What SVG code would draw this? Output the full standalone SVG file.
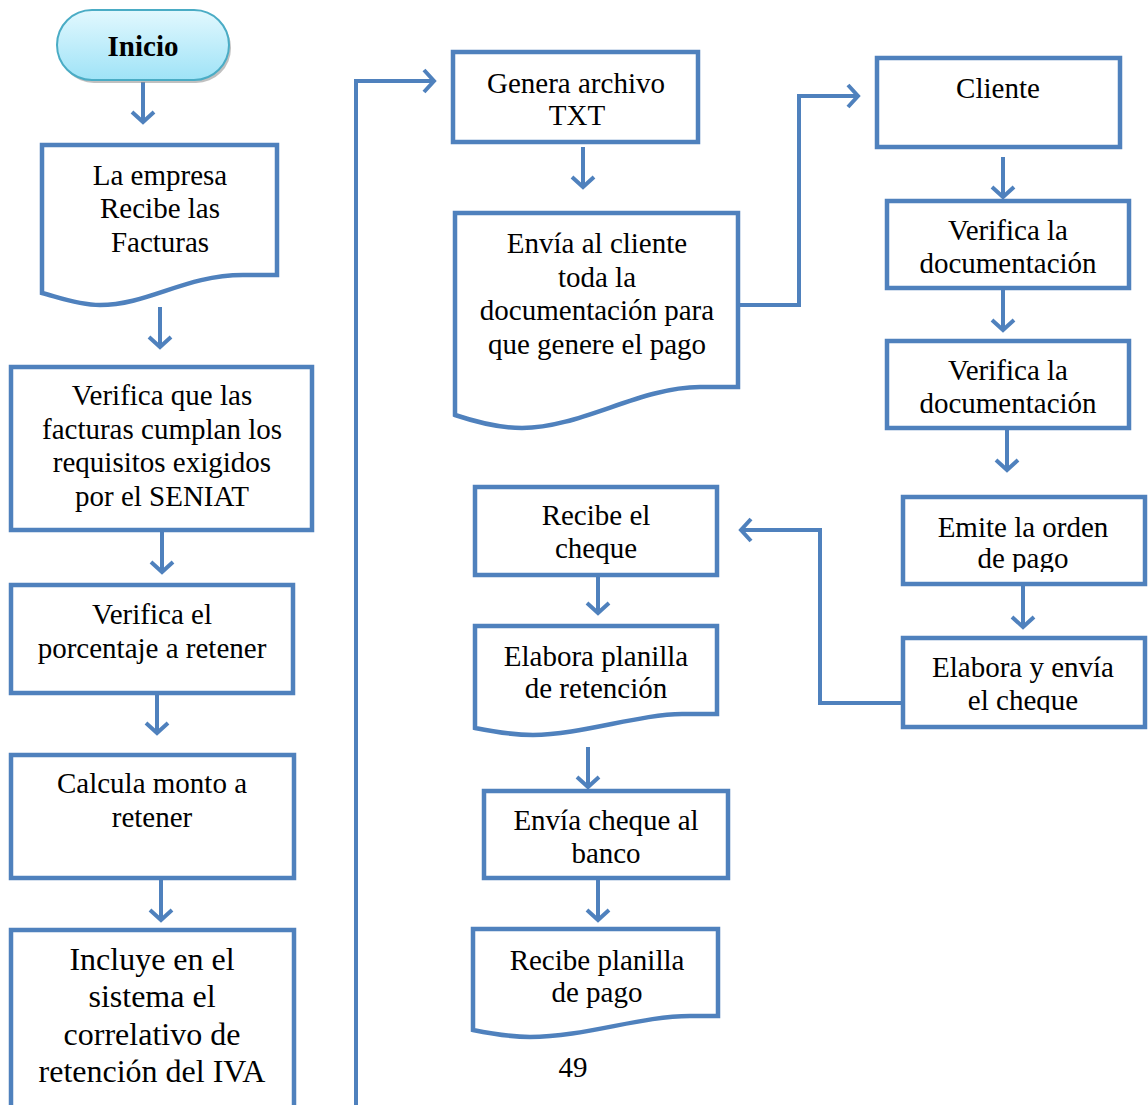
<svg xmlns="http://www.w3.org/2000/svg" width="1148" height="1105" viewBox="0 0 1148 1105">
<style>
.b{fill:#fff;stroke:#4f81bd;stroke-width:4.5}
.t{font-family:"Liberation Serif","Times New Roman",serif;font-size:29px;fill:#000;text-anchor:middle}
.big{font-size:32px}
.c{fill:none;stroke:#4f81bd;stroke-width:4}
</style>
<defs>
<linearGradient id="g" x1="0" y1="0" x2="0" y2="1">
<stop offset="0" stop-color="#e2f8fe"/>
<stop offset="1" stop-color="#9fe3f7"/>
</linearGradient>
<marker id="a" viewBox="-14 -14 16 28" refX="0" refY="0" markerWidth="16" markerHeight="28" markerUnits="userSpaceOnUse" orient="auto" overflow="visible">
<path d="M-10,-11 L0,0 L-10,11" fill="none" stroke="#4f81bd" stroke-width="4"/>
</marker>
<clipPath id="k1"><rect x="903" y="497" width="242" height="75"/></clipPath>
<clipPath id="k2"><rect x="903" y="638" width="242" height="75"/></clipPath>
</defs>
<rect width="1148" height="1105" fill="#fff"/>
<g id="connectors">
<path class="c" marker-end="url(#a)" d="M143,82 V122"/>
<path class="c" marker-end="url(#a)" d="M160,307 V347"/>
<path class="c" marker-end="url(#a)" d="M162,532 V572"/>
<path class="c" marker-end="url(#a)" d="M157,695 V733"/>
<path class="c" marker-end="url(#a)" d="M161,880 V920"/>
<path class="c" marker-end="url(#a)" d="M356,1105 V81 H434"/>
<path class="c" marker-end="url(#a)" d="M583,147 V187"/>
<path class="c" marker-end="url(#a)" d="M738,305 H799 V96 H858"/>
<path class="c" marker-end="url(#a)" d="M1003,157 V197"/>
<path class="c" marker-end="url(#a)" d="M1003,290 V330"/>
<path class="c" marker-end="url(#a)" d="M1007,430 V470"/>
<path class="c" marker-end="url(#a)" d="M1023,586 V627"/>
<path class="c" marker-end="url(#a)" d="M903,703 H820 V530 H741"/>
<path class="c" marker-end="url(#a)" d="M598,577 V613"/>
<path class="c" marker-end="url(#a)" d="M588,747 V787"/>
<path class="c" marker-end="url(#a)" d="M598,880 V920"/>
</g>
<g id="inicio">
<rect x="59" y="13" width="172" height="70" rx="35" fill="#8c8c8c" opacity="0.55"/>
<rect x="57" y="10" width="172" height="70" rx="35" fill="url(#g)" stroke="#4aacc5" stroke-width="2"/>
<text class="t" x="143" y="56" font-weight="bold" font-size="28">Inicio</text>
</g>
<g id="recibe-facturas">
<path class="b" d="M42,145 H277 V275 H243 C185,275 148,305 100,305 C77,305 55,296 42,293 Z"/>
<text class="t" x="160" y="185">La empresa</text>
<text class="t" x="160" y="218">Recibe las</text>
<text class="t" x="160" y="252">Facturas</text>
</g>
<g id="verifica-facturas">
<rect class="b" x="11" y="367" width="301" height="163"/>
<text class="t" x="162" y="405">Verifica que las</text>
<text class="t" x="162" y="439">facturas cumplan los</text>
<text class="t" x="162" y="472">requisitos exigidos</text>
<text class="t" x="162" y="506">por el SENIAT</text>
</g>
<g id="verifica-porcentaje">
<rect class="b" x="11" y="585" width="282" height="108"/>
<text class="t" x="152" y="624">Verifica el</text>
<text class="t" x="152" y="658">porcentaje a retener</text>
</g>
<g id="calcula">
<rect class="b" x="11" y="755" width="283" height="123"/>
<text class="t" x="152" y="793">Calcula monto a</text>
<text class="t" x="152" y="827">retener</text>
</g>
<g id="incluye">
<rect class="b" x="11" y="930" width="283" height="200"/>
<text class="t big" x="152" y="970">Incluye en el</text>
<text class="t big" x="152" y="1007">sistema el</text>
<text class="t big" x="152" y="1045">correlativo de</text>
<text class="t big" x="152" y="1082">retención del IVA</text>
</g>
<g id="genera-txt">
<rect class="b" x="453" y="52" width="245" height="90"/>
<text class="t" x="576" y="93">Genera archivo</text>
<text class="t" x="577" y="125">TXT</text>
</g>
<g id="envia-cliente">
<path class="b" d="M455,213 H738 V387 H700 C640,387 580,428 522,428 C497,428 470,420 455,415 Z"/>
<text class="t" x="597" y="253">Envía al cliente</text>
<text class="t" x="597" y="287">toda la</text>
<text class="t" x="597" y="320">documentación para</text>
<text class="t" x="597" y="354">que genere el pago</text>
</g>
<g id="cliente">
<rect class="b" x="877" y="58" width="243" height="89"/>
<text class="t" x="998" y="98">Cliente</text>
</g>
<g id="verifica-doc-1">
<rect class="b" x="887" y="201" width="242" height="87"/>
<text class="t" x="1008" y="240">Verifica la</text>
<text class="t" x="1008" y="273">documentación</text>
</g>
<g id="verifica-doc-2">
<rect class="b" x="887" y="341" width="242" height="87"/>
<text class="t" x="1008" y="380">Verifica la</text>
<text class="t" x="1008" y="413">documentación</text>
</g>
<g id="emite-orden">
<rect class="b" x="903" y="497" width="242" height="87"/>
<g clip-path="url(#k1)">
<text class="t" x="1023" y="537">Emite la orden</text>
<text class="t" x="1023" y="568">de pago</text>
</g>
</g>
<g id="elabora-cheque">
<rect class="b" x="903" y="638" width="242" height="89"/>
<g clip-path="url(#k2)">
<text class="t" x="1023" y="677">Elabora y envía</text>
<text class="t" x="1023" y="710">el cheque</text>
</g>
</g>
<g id="recibe-cheque">
<rect class="b" x="475" y="487" width="242" height="88"/>
<text class="t" x="596" y="525">Recibe el</text>
<text class="t" x="596" y="558">cheque</text>
</g>
<g id="elabora-planilla">
<path class="b" d="M475,626 H717 V714 H682 C640,714 580,735 533,735 C513,735 490,731 475,728 Z"/>
<text class="t" x="596" y="666">Elabora planilla</text>
<text class="t" x="596" y="698">de retención</text>
</g>
<g id="envia-banco">
<rect class="b" x="484" y="791" width="244" height="87"/>
<text class="t" x="606" y="830">Envía cheque al</text>
<text class="t" x="606" y="863">banco</text>
</g>
<g id="recibe-planilla-pago">
<path class="b" d="M473,929 H718 V1016 H690 C640,1016 585,1037 530,1037 C510,1037 488,1033 473,1030 Z"/>
<text class="t" x="597" y="970">Recibe planilla</text>
<text class="t" x="597" y="1002">de pago</text>
</g>
<text class="t" x="573" y="1077">49</text>
</svg>
